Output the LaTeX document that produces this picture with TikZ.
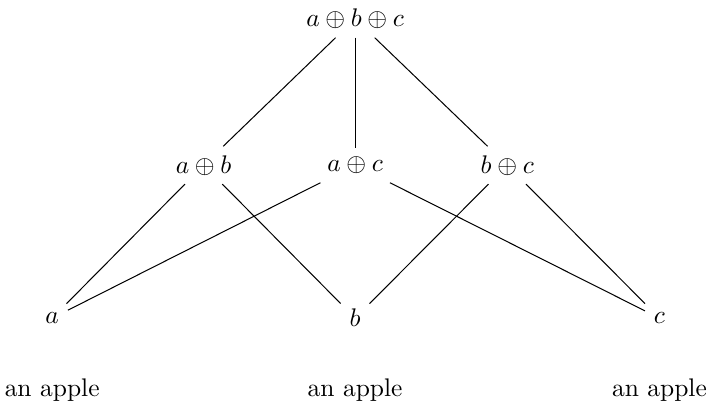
\documentclass[tikz,border=0pt]{standalone}
\usepackage{amsmath,amssymb}
\begin{document}
\begin{tikzpicture}[x=1cm,y=1cm]
  \useasboundingbox (-4.9,0.26) rectangle (4.87,-5.37);
  \node (abc) at (0,0) {$a\oplus b\oplus c$};
  \node (ab) at (-2.09,-2.02) {$a\oplus b$};
  \node (ac) at (0,-2.02) {$a\oplus c$};
  \node (bc) at (2.1,-2.02) {$b\oplus c$};
  \node (a) at (-4.18,-4.13) {$a$};
  \node (b) at (0,-4.13) {$b$};
  \node (c) at (4.2,-4.13) {$c$};
  \foreach \u/\v in {abc/ab,abc/ac,abc/bc,ab/a,ab/b,ac/a,ac/c,bc/b,bc/c}{\draw (\u)--(\v);}
  \foreach \n in {a,b,c}{\path (\n) ++(0,-1) node (\n apple) {an apple};}
\end{tikzpicture}
\end{document}
